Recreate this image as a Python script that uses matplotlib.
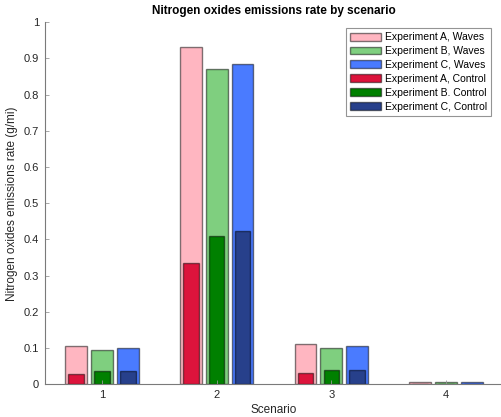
import matplotlib
matplotlib.use("Agg")
import matplotlib.pyplot as plt
import numpy as np

scenarios = [1, 2, 3, 4]
labels = ["Experiment A, Waves", "Experiment B, Waves", "Experiment C, Waves",
          "Experiment A, Control", "Experiment B. Control", "Experiment C, Control"]
waves_A = [0.107, 0.932, 0.112, 0.005]
waves_B = [0.095, 0.872, 0.099, 0.005]
waves_C = [0.101, 0.884, 0.107, 0.005]
control_A = [0.029, 0.335, 0.030, 0.001]
control_B = [0.038, 0.411, 0.039, 0.001]
control_C = [0.038, 0.424, 0.039, 0.001]

wave_colors = ["#FFB6C1", "#7FCF7F", "#4A7BFF"]
ctrl_colors = ["#DC143C", "#008000", "#27408B"]

plt.rcParams['font.family'] = ['Liberation Sans', 'DejaVu Sans']

fig = plt.figure(figsize=(5.02, 4.17), dpi=100)
ax = fig.add_axes([44.7/502, 32.7/417, 458.6/502, 362/417])

x = np.array(scenarios, dtype=float)
offsets = [-0.225, 0.0, 0.225]
edge = (0, 0, 0, 0.5)
handles = []
for off, vals, c in zip(offsets, [waves_A, waves_B, waves_C], wave_colors):
    h = ax.bar(x + off, vals, width=0.19, color=c, edgecolor=edge, linewidth=1.0)
    handles.append(h)
for off, vals, c in zip(offsets, [control_A, control_B, control_C], ctrl_colors):
    h = ax.bar(x + off, vals, width=0.135, color=c, edgecolor=edge, linewidth=1.0)
    handles.append(h)

ax.set_xlim(0.5, 4.5)
ax.set_ylim(0, 1)
ax.set_xticks(scenarios)
ax.set_yticks(np.arange(0, 1.01, 0.1))
ax.set_yticklabels(["0", "0.1", "0.2", "0.3", "0.4", "0.5", "0.6", "0.7", "0.8", "0.9", "1"])
ax.tick_params(direction='in', length=3, width=0.6, labelsize=8, pad=4)
ax.tick_params(colors='#999999', labelcolor='#262626')
for s in ['top', 'right']:
    ax.spines[s].set_visible(False)
for s in ['left', 'bottom']:
    ax.spines[s].set_color('#7a7a7a')
    ax.spines[s].set_linewidth(0.8)

ax.set_title("Nitrogen oxides emissions rate by scenario", fontsize=8.5, fontweight='bold', pad=6)
ax.set_xlabel("Scenario", fontsize=8.5, color='#262626', labelpad=3)
ax.set_ylabel("Nitrogen oxides emissions rate (g/mi)", fontsize=8.5, color='#262626', labelpad=4)

leg = ax.legend(handles, labels, loc='upper right', bbox_to_anchor=(491/502, 389/417),
                bbox_transform=fig.transFigure, fontsize=7.5, frameon=True, fancybox=False,
                handlelength=2.9, handleheight=0.8, handletextpad=0.4, labelspacing=0.38,
                borderpad=0.4, borderaxespad=0)
leg.get_frame().set_edgecolor('#7a7a7a')
leg.get_frame().set_linewidth(0.8)

fig.savefig("out.png", dpi=100)
